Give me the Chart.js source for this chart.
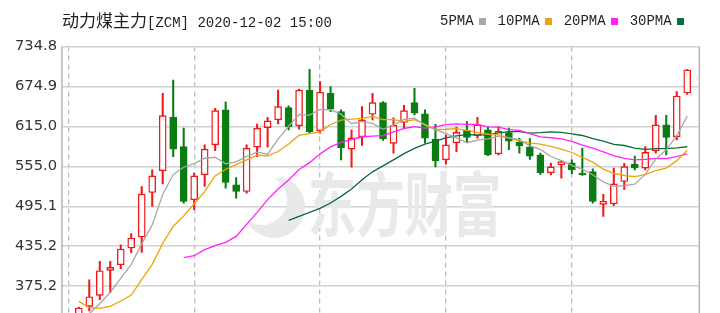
<!DOCTYPE html>
<html>
<head>
<meta charset="utf-8">
<script src="https://cdn.jsdelivr.net/npm/chart.js@4/dist/chart.umd.min.js"></script>
<style>
  html, body { margin: 0; padding: 0; background: #fff; overflow: hidden; width: 720px; height: 313px; }
  #wrap { position: relative; width: 720px; height: 340px; }
  canvas { position: absolute; left: 0; top: 0; }
  .txt { position: absolute; white-space: pre; color: #1e1e1e; line-height: 1; }
  .cjk { font-family: "Noto Sans CJK SC", sans-serif; font-size: 17px; }
  .mono { font-family: "Liberation Mono", monospace; font-size: 14px; }
  #legend { position: absolute; left: 440px; top: 13px; display: flex; align-items: center; }
  #legend .item { display: flex; align-items: center; margin-right: 12px; }
  #legend .sq { width: 7px; height: 7px; margin-left: 5px; }
</style>
</head>
<body>
<div id="wrap">
  <canvas id="c" width="720" height="340"></canvas>
  <div class="txt" style="left:62px; top:11px;"><span class="cjk">动力煤主力</span><span class="mono">[ZCM] 2020-12-02 15:00</span></div>
  <div id="legend"></div>
</div>
<script>
// Daily bars of the thermal coal main contract (oldest first)
const open  = [318, 331, 345, 361.5, 399, 407.5, 432.5, 449, 515.8, 548.3,
               628.7, 584.7, 504.9, 542.3, 587.2, 639.7, 527.3, 517.3, 583.8, 613.2,
               624.7, 643.1, 615.7, 669.6, 608.2, 664.7, 637.1, 580.8, 599.2, 633.2,
               650.6, 589.5, 621.0, 650.6, 633.7, 595.8, 564.8, 590.3, 609.0, 600.7,
               609.7, 573.7, 605.7, 591.0, 584.2, 572.2, 545.3, 557.3, 560.3, 544.0,
               547.2, 498.1, 498.9, 532.3, 558.3, 552.3, 578.2, 617.2, 599.2, 665.1];
const high  = [333, 344, 385, 412.4, 412.4, 437.4, 454, 524.8, 549.8, 664.7,
               684.6, 612.3, 544.8, 587.2, 642.2, 651.7, 538.3, 587.2, 618.3, 628.7,
               669.6, 645.7, 671, 700.6, 682.1, 674.6, 639.7, 609.7, 644.6, 664.7,
               652, 627.7, 646.4, 672.2, 639.7, 618, 602.2, 613.5, 622.2, 628.4,
               614.7, 614.7, 612.3, 597.3, 596.5, 574.8, 559.8, 563.7, 564.8, 582.3,
               551.3, 513.1, 552.3, 559.5, 570.3, 584.7, 631.4, 631.4, 667.1, 700.5];
const low   = [316, 326, 338, 355, 365, 401.5, 425, 426, 494.8, 528.8,
               569.7, 499.9, 489.9, 524.8, 578.7, 522.4, 507.4, 514.9, 569.7, 583.8,
               618.7, 609.7, 610.8, 604.8, 604.8, 637.1, 564.8, 553.8, 586.5, 624.7,
               594, 574.8, 611.2, 632.2, 589.8, 554.3, 558.8, 577.2, 592.2, 597.3,
               571, 572, 580.2, 574.8, 565.5, 543, 542.3, 537.3, 544.2, 541.5,
               499.9, 479.8, 495.9, 520.3, 549.8, 549.8, 574.8, 572.2, 594.7, 663];
const close = [327, 342.6, 359.5, 398.5, 403.5, 431.0, 447.5, 513.4, 540.8, 631.1,
               580.8, 502.3, 540.8, 580.8, 638.6, 530.8, 517.3, 582.3, 612.3, 623.2,
               644.6, 614.7, 669.2, 607.2, 666.2, 640.7, 583.2, 597.7, 624.7, 650.6,
               596.2, 616.5, 638.6, 634.7, 597.3, 563.3, 587.2, 606.0, 598.5, 617.2,
               572.2, 607.5, 592.9, 585.7, 570.3, 545.7, 554.3, 562.2, 549.8, 542.0,
               502.3, 502.6, 528.8, 554.7, 552.8, 576.0, 617.2, 598.5, 660.6, 699.6];

// Moving averages (null where the average is not yet available)
const ma5  = [318, 325, 334, 349, 366.2, 387.0, 408.0, 438.8, 467.2, 512.8,
              542.7, 553.7, 559.2, 567.2, 568.7, 558.7, 561.7, 570.0, 576.3, 573.2,
              595.9, 615.4, 632.8, 631.8, 640.4, 639.6, 633.3, 619.0, 622.5, 619.4,
              610.5, 617.1, 625.3, 627.3, 616.7, 610.1, 604.2, 597.7, 590.5, 594.4,
              596.2, 600.3, 597.7, 595.1, 585.7, 580.4, 569.8, 563.6, 556.5, 550.8,
              542.1, 531.8, 525.1, 526.1, 528.2, 543.0, 565.9, 579.8, 601.0, 630.4];
const ma10 = [null, 352.5, 343, 342, 345, 353, 362, 385, 408.1, 439.5,
              464.9, 480.8, 499.0, 517.2, 540.7, 550.7, 557.7, 564.6, 571.7, 570.9,
              577.3, 588.5, 601.4, 604.0, 606.8, 617.8, 624.4, 625.9, 627.1, 629.9,
              625.0, 625.2, 622.2, 624.9, 618.0, 610.3, 610.7, 611.5, 608.9, 605.6,
              603.2, 602.3, 597.7, 592.8, 590.1, 588.3, 585.0, 580.7, 575.8, 568.3,
              561.3, 550.8, 544.4, 541.3, 539.5, 542.6, 548.8, 552.5, 563.6, 579.3];
const ma20 = [null, null, null, null, null, null, null, null, null, null,
              null, 418, 421, 430, 436, 441, 450, 468, 486, 505.2,
              521.1, 534.7, 550.2, 560.6, 573.8, 584.3, 591.1, 595.3, 599.4, 600.4,
              601.2, 606.9, 611.8, 614.5, 612.4, 614.1, 617.6, 618.7, 618.0, 617.8,
              614.1, 613.8, 610.0, 608.9, 604.1, 599.3, 597.9, 596.1, 592.4, 587.0,
              582.3, 576.6, 571.1, 567.1, 564.8, 565.5, 566.9, 566.6, 569.7, 573.8];
const ma30 = [null, null, null, null, null, null, null, null, null, null,
              null, null, null, null, null, null, null, null, null, null,
              null, 474, 480, 486, 492, 500, 510, 521, 535, 546.8,
              555.7, 564.8, 574.2, 582.0, 588.5, 592.9, 597.6, 600.7, 602.6, 602.1,
              601.8, 605.3, 607.1, 607.2, 605.0, 605.5, 606.7, 606.0, 603.9, 601.3,
              596.5, 592.8, 588.1, 586.3, 582.5, 580.4, 581.5, 581.6, 582.8, 584.4];

const maNames  = ['5PMA', '10PMA', '20PMA', '30PMA'];
const maColors = ['#a8a8a8', '#f0a30a', '#ff22ff', '#0b6b3a'];
const yTickLabels = ['734.8', '674.9', '615.0', '555.0', '495.1', '435.2', '375.2'];
const yMin = 315.29, yMax = 734.8;
const xGridAt = [0, 12, 24, 36, 48];

const RED = '#f21818', GREEN = '#0a7d12';
const idx = close.map((_, i) => i);
const isUp = i => close[i] >= open[i];

// legend row
const legendEl = document.getElementById('legend');
maNames.forEach((name, k) => {
  const item = document.createElement('div');
  item.className = 'item';
  item.innerHTML = '<span class="mono" style="color:#1e1e1e">' + name + '</span>' +
                   '<span class="sq" style="background:' + maColors[k] + '"></span>';
  legendEl.appendChild(item);
});

const toPoints = arr => arr.map((v, i) => ({ x: i, y: v })).filter(p => p.y !== null);

// faint brand watermark behind the plot
const watermark = {
  id: 'watermark',
  beforeDatasetsDraw(chart) {
    const ctx = chart.ctx;
    ctx.save();
    ctx.fillStyle = '#e9e9e9';
    // leaf mark
    ctx.beginPath();
    ctx.arc(274, 207, 31, -1.25, 2.35);
    ctx.arc(262, 200, 25, 2.2, -1.05, true);
    ctx.closePath();
    ctx.fill();
    // brand name
    ctx.font = 'bold 70px "Noto Sans CJK SC"';
    ctx.textBaseline = 'alphabetic';
    ctx.translate(308, 231);
    ctx.scale(0.69, 1);
    ctx.fillText('东方财富', 0, 0);
    ctx.restore();
  }
};

// plot frame
const frame = {
  id: 'frame',
  afterDraw(chart) {
    const a = chart.chartArea, ctx = chart.ctx;
    ctx.save();
    ctx.strokeStyle = '#b4b4b4';
    ctx.lineWidth = 1.5;
    ctx.beginPath();
    ctx.moveTo(a.left, a.top); ctx.lineTo(a.left, a.bottom);
    ctx.moveTo(a.right, a.top); ctx.lineTo(a.right, a.bottom);
    ctx.stroke();
    ctx.restore();
  }
};

const lineSets = [ma5, ma10, ma20, ma30].map((arr, k) => ({
  type: 'line',
  label: maNames[k],
  data: toPoints(arr),
  borderColor: maColors[k],
  borderWidth: 1.3,
  pointRadius: 0,
  tension: 0,
  order: 0
}));

new Chart(document.getElementById('c'), {
  type: 'bar',
  data: {
    datasets: [
      ...lineSets,
      {
        label: 'body',
        data: idx.map(i => ({ x: i, y: [open[i], close[i]] })),
        backgroundColor: idx.map(i => isUp(i) ? '#ffffff' : GREEN),
        borderColor: idx.map(i => isUp(i) ? RED : GREEN),
        borderWidth: 1.4,
        borderSkipped: false,
        barThickness: 7,
        minBarLength: 2,
        grouped: false,
        order: 1
      },
      {
        label: 'wick',
        data: idx.map(i => ({ x: i, y: [low[i], high[i]] })),
        backgroundColor: idx.map(i => isUp(i) ? RED : GREEN),
        borderWidth: 0,
        barThickness: 1.4,
        grouped: false,
        order: 2
      }
    ]
  },
  options: {
    responsive: false,
    animation: false,
    devicePixelRatio: 1,
    events: [],
    layout: { padding: { left: 0, right: 20.7, top: 46.5, bottom: 13.5 } },
    plugins: { legend: { display: false }, tooltip: { enabled: false } },
    scales: {
      x: {
        type: 'linear',
        min: -0.6,
        max: 60.15,
        offset: false,
        grid: { offset: false, color: '#bdbdbd', lineWidth: 1.3, drawTicks: false },
        border: { display: false, dash: [5, 4] },
        ticks: { display: false },
        afterBuildTicks(scale) { scale.ticks = xGridAt.map(v => ({ value: v })); },
        afterFit(scale) { scale.height = 0; }
      },
      y: {
        min: yMin,
        max: yMax,
        beginAtZero: false,
        grid: { color: '#d2d2d2', lineWidth: 1.5, drawTicks: false },
        border: { display: false },
        ticks: {
          padding: 5,
          color: '#333',
          font: { family: 'DejaVu Sans', size: 14.7 },
          callback: v => Number(v).toFixed(1)
        },
        afterBuildTicks(scale) { scale.ticks = yTickLabels.map(s => ({ value: parseFloat(s) })); },
        afterFit(scale) { scale.width = 62; }
      }
    }
  },
  plugins: [watermark, frame]
});
</script>
</body>
</html>
